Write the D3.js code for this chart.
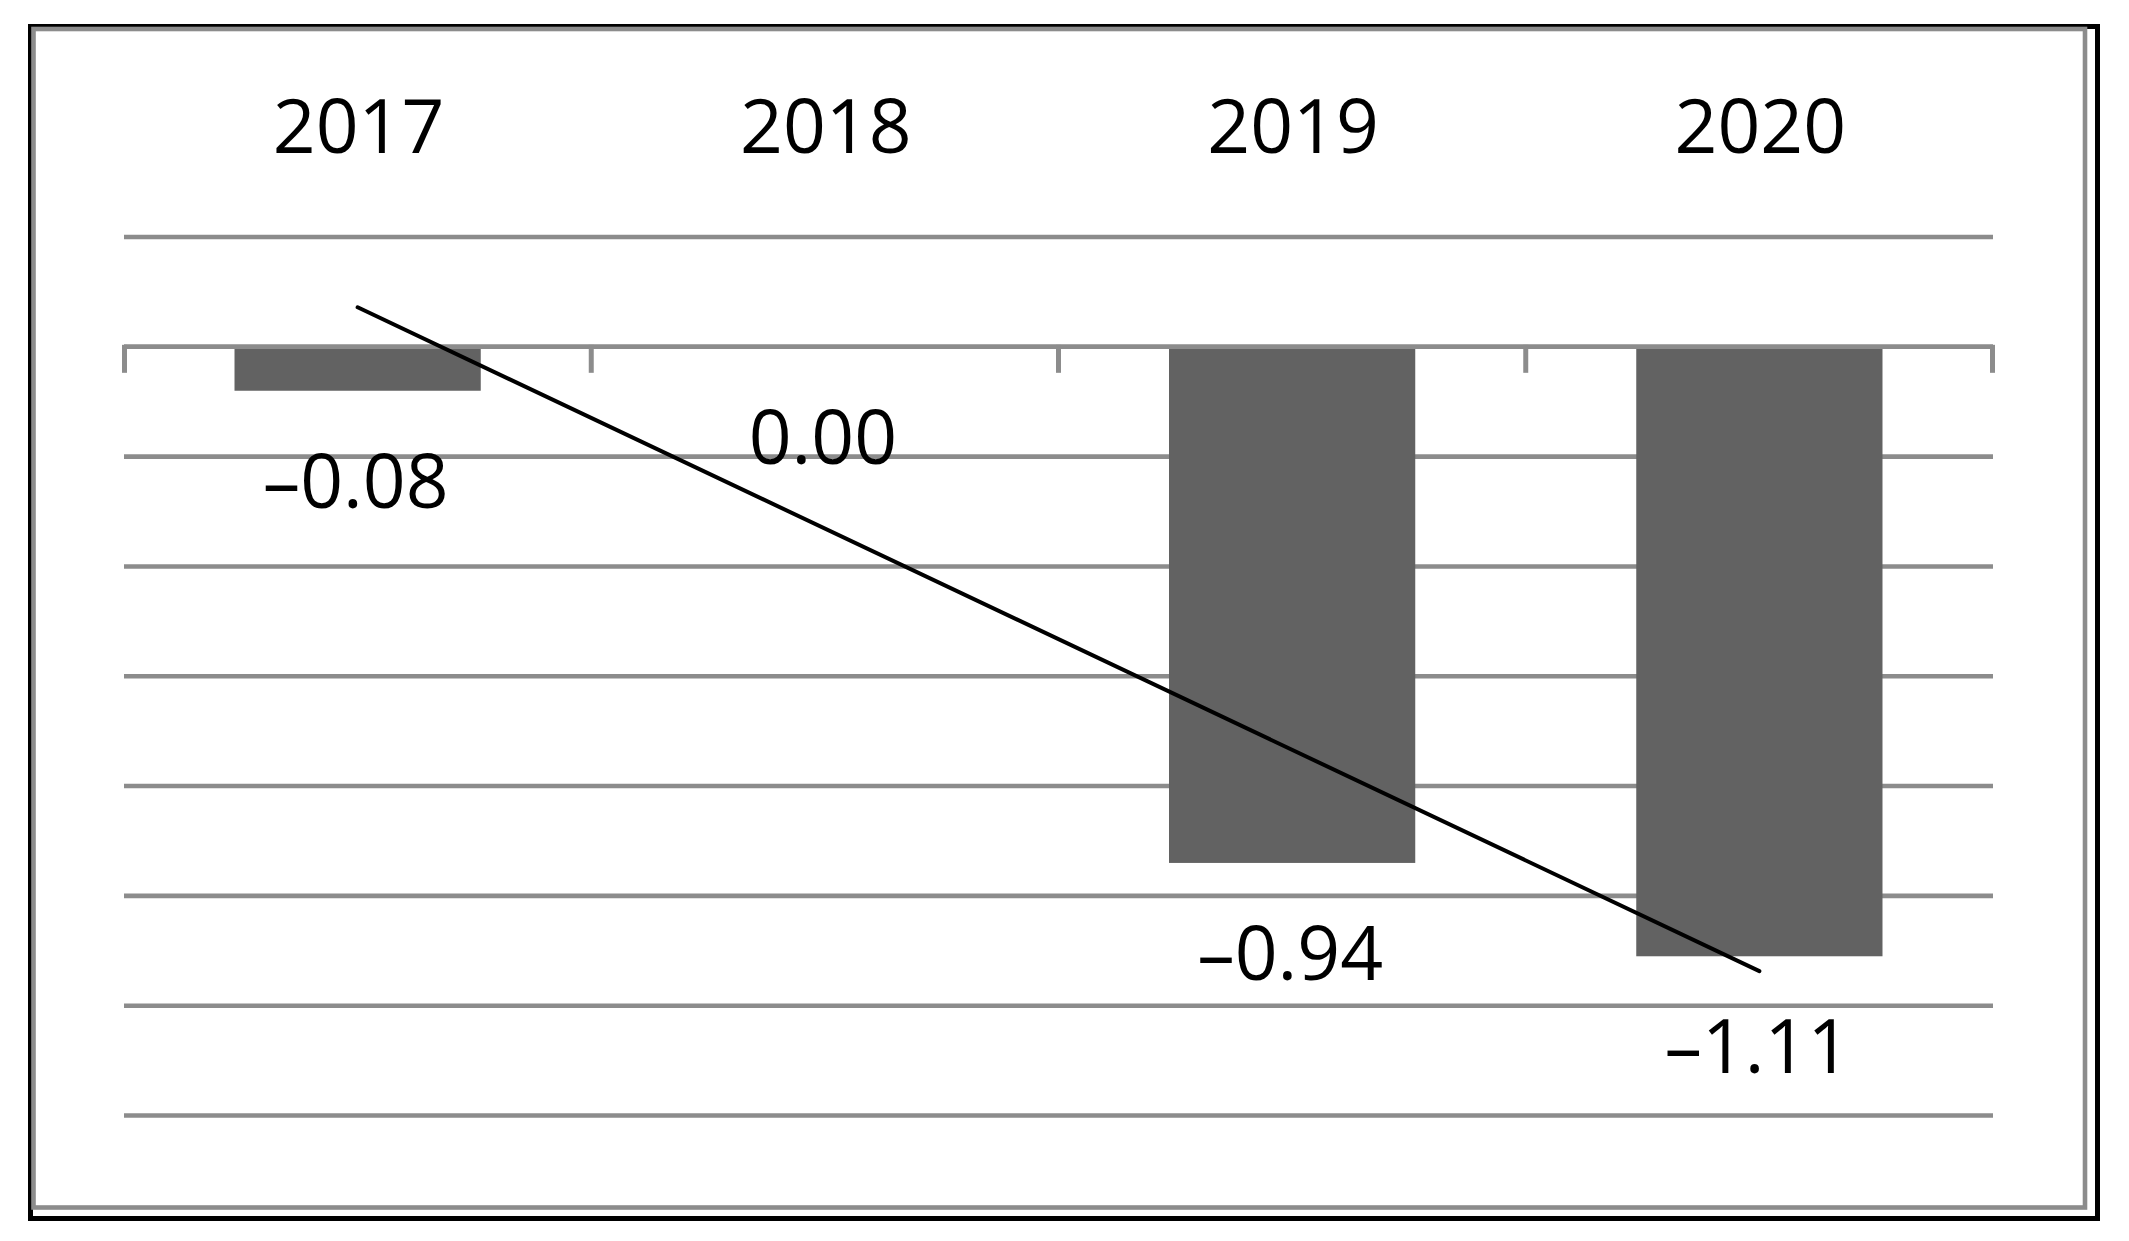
<!DOCTYPE html>
<html>
<head>
<meta charset="utf-8">
<script src="https://cdn.jsdelivr.net/npm/d3@7"></script>
<style>
  html, body { margin: 0; padding: 0; background: #fff; }
  svg { display: block; }
</style>
</head>
<body>
<div id="chart"></div>
<script>
// data
const years = ['2017', '2018', '2019', '2020'];
const values = [-0.08, 0.00, -0.94, -1.11];
const labels = ['\u20130.08', '0.00', '\u20130.94', '\u20131.11'];
const gridValues = [0.2, 0, -0.2, -0.4, -0.6, -0.8, -1.0, -1.2, -1.4];

const width = 2129;
const height = 1241;
const gridColor = '#8c8c8c';
const barColor = '#626262';
const font = '"Open Sans", "Noto Sans", sans-serif';

const svg = d3.select('#chart')
    .append('svg')
    .attr('width', width)
    .attr('height', height);

svg.append('rect')
    .attr('width', width)
    .attr('height', height)
    .attr('fill', '#fff');

// double frame: black outer, gray inner
svg.append('rect')
    .attr('x', 30.5).attr('y', 26.5)
    .attr('width', 2067).attr('height', 1192)
    .attr('fill', 'none')
    .attr('stroke', '#000')
    .attr('stroke-width', 5);
svg.append('rect')
    .attr('x', 33.5).attr('y', 29)
    .attr('width', 2051.5).attr('height', 1178.5)
    .attr('fill', 'none')
    .attr('stroke', gridColor)
    .attr('stroke-width', 4.6);

const x = d3.scaleBand()
    .domain(years)
    .range([124, 1993])
    .paddingInner(0.473)
    .paddingOuter(0.2365);

const y = d3.scaleLinear()
    .domain([-1.4, 0.2])
    .range([1115.5, 237]);

// gridlines
svg.append('g')
  .selectAll('line')
    .data(gridValues)
    .join('line')
    .attr('x1', x.range()[0])
    .attr('x2', x.range()[1])
    .attr('y1', d => y(d))
    .attr('y2', d => y(d))
    .attr('stroke', gridColor)
    .attr('stroke-width', 4.6);

// bars
svg.append('g')
  .selectAll('rect')
    .data(values)
    .join('rect')
    .attr('x', (d, i) => x(years[i]))
    .attr('width', x.bandwidth())
    .attr('y', d => y(Math.max(0, d)))
    .attr('height', d => Math.abs(y(d) - y(0)))
    .attr('fill', barColor);

// zero axis line with category ticks
const step = x.step();
const x0 = x.range()[0];
const axis = svg.append('g');
axis.append('line')
    .attr('x1', x0).attr('x2', x.range()[1])
    .attr('y1', y(0)).attr('y2', y(0))
    .attr('stroke', gridColor)
    .attr('stroke-width', 4.6);
axis.selectAll('line.tick')
    .data(d3.range(years.length + 1))
    .join('line')
    .attr('class', 'tick')
    .attr('x1', i => x0 + i * step + (i === 0 ? 0.5 : (i === years.length ? -0.5 : 0)))
    .attr('x2', i => x0 + i * step + (i === 0 ? 0.5 : (i === years.length ? -0.5 : 0)))
    .attr('y1', y(0) - 2)
    .attr('y2', y(0) + 26)
    .attr('stroke', gridColor)
    .attr('stroke-width', 5);

// linear trendline
const idx = d3.range(values.length);
const mx = d3.mean(idx);
const my = d3.mean(values);
const slope = d3.sum(idx, i => (i - mx) * (values[i] - my)) / d3.sum(idx, i => (i - mx) * (i - mx));
const icpt = my - slope * mx;
const cx = i => x(years[i]) + x.bandwidth() / 2;
svg.append('line')
    .attr('x1', cx(0))
    .attr('y1', y(icpt))
    .attr('x2', cx(values.length - 1))
    .attr('y2', y(icpt + slope * (values.length - 1)))
    .attr('stroke', '#000')
    .attr('stroke-width', 4)
    .attr('stroke-linecap', 'round');

// year labels on top
svg.append('g')
  .selectAll('text')
    .data(years)
    .join('text')
    .attr('x', d => x(d) + x.bandwidth() / 2 + 1)
    .attr('y', 153)
    .attr('text-anchor', 'middle')
    .attr('font-family', font)
    .attr('font-size', 75)
    .attr('fill', '#000')
    .text(d => d);

// value labels below bar ends
svg.append('g')
  .selectAll('text')
    .data(values)
    .join('text')
    .attr('x', (d, i) => x(years[i]) + x.bandwidth() / 2 - 2)
    .attr('y', d => y(Math.min(0, d)) + 117)
    .attr('text-anchor', 'middle')
    .attr('font-family', font)
    .attr('font-size', 75)
    .attr('fill', '#000')
    .text((d, i) => labels[i]);
</script>
</body>
</html>
